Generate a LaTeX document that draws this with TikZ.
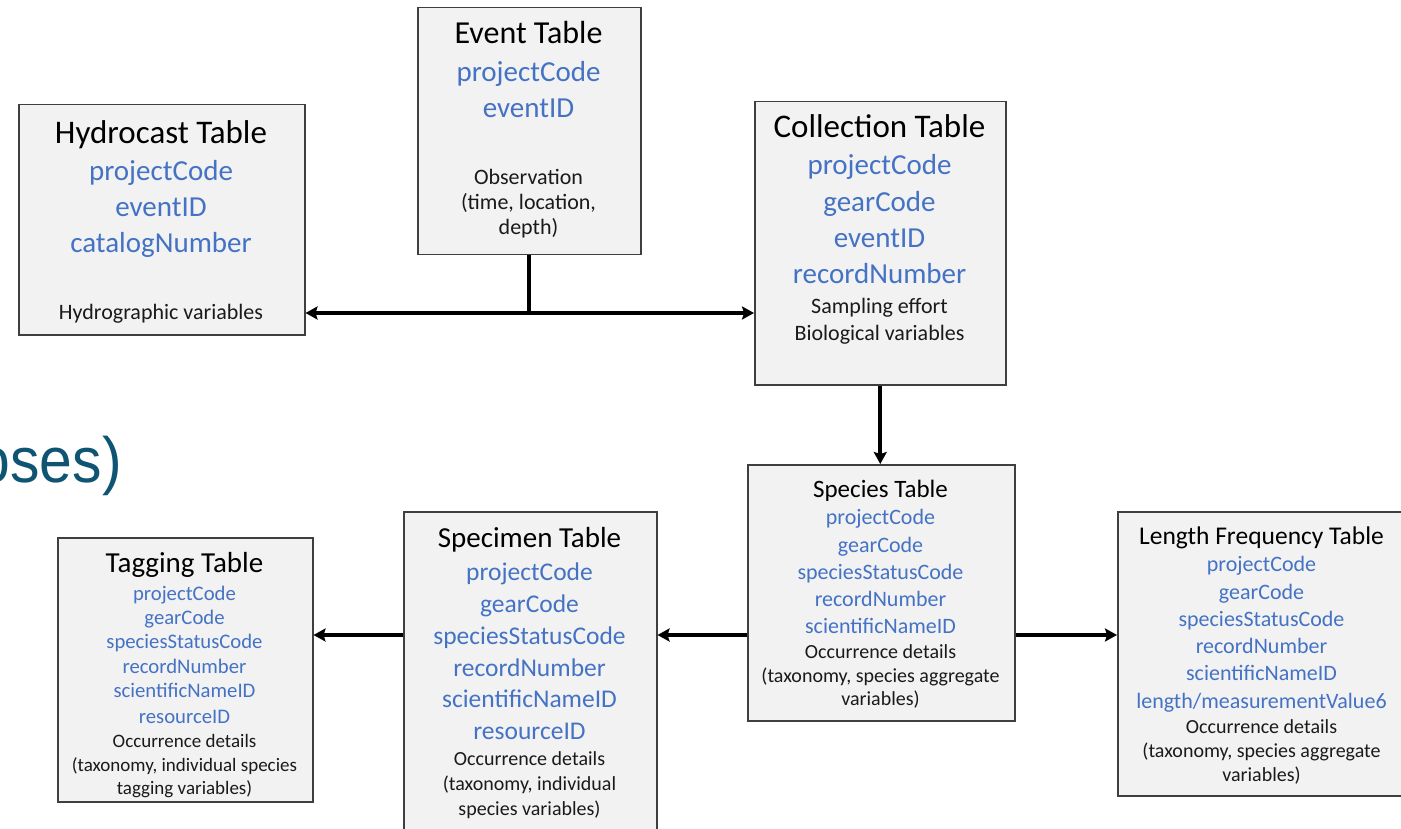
\documentclass[tikz,border=0pt]{standalone}
\usepackage{fontspec}
\setmainfont{Carlito}
\newfontfamily\slidefont{Liberation Sans}
\usetikzlibrary{arrows.meta}
\definecolor{keyblue}{HTML}{4472C4}
\definecolor{boxfill}{HTML}{F2F2F2}
\definecolor{boxline}{HTML}{3F3F3F}
\definecolor{notetext}{HTML}{1A1A1A}
\definecolor{slideteal}{HTML}{0F5573}
\tikzset{
  tbox/.style={draw=boxline, fill=boxfill, line width=1.5pt, inner sep=0pt, anchor=north west},
  ln/.style={anchor=mid, inner sep=0pt},
  ttl/.style={ln, font=\fontsize{#1}{#1}\selectfont, text=black, yshift={-0.235*#1}},
  key/.style={ln, font=\fontsize{#1}{#1}\selectfont, text=keyblue, yshift={-0.22*#1}},
  note/.style={ln, font=\fontsize{#1}{#1}\selectfont, text=notetext, yshift={-0.22*#1}},
  conn/.style={line width=4pt},
  arr/.style={line width=4pt, -{Stealth[length=12pt,width=13pt,inset=2pt]}},
}
\begin{document}
\begin{tikzpicture}[x=1pt,y=-1pt]
\clip (0,0) rectangle (1401,829);
\fill[white] (0,0) rectangle (1401,829);

% slide title fragment
\node[anchor=base east, inner sep=0pt, text=slideteal,
      font=\slidefont\fontsize{64}{64}\selectfont] (frag) at (122,482)
      {\scalebox{0.92}[1]{oses)}};

% Hydrocast table
\node[tbox, minimum width=286pt, minimum height=230pt] (hyd) at (18,104) {};
\node[ttl=33] (hyd-t) at (161,133) {Hydrocast Table};
\foreach \y/\t [count=\i] in {172/projectCode,208/eventID,244/catalogNumber}
  \node[key=29] (hyd-k\i) at (161,\y) {\t};
\node[note=22] (hyd-n1) at (161,312) {Hydrographic variables};

% Event table
\node[tbox, minimum width=223pt, minimum height=247pt] (ev) at (417,7) {};
\node[ttl=32] (ev-t) at (528.5,34) {Event Table};
\foreach \y/\t [count=\i] in {73/projectCode,109/eventID}
  \node[key=29] (ev-k\i) at (528.5,\y) {\t};
\foreach \y/\t [count=\i] in {177/Observation,202/{(time, location,},227/depth)}
  \node[note=22] (ev-n\i) at (528.5,\y) {\t};

% Collection table
\node[tbox, minimum width=251pt, minimum height=283pt] (col) at (754,101) {};
\node[ttl=33] (col-t) at (879.5,127) {Collection Table};
\foreach \y/\t [count=\i] in {166/projectCode,203/gearCode,239/eventID,275/recordNumber}
  \node[key=29] (col-k\i) at (879.5,\y) {\t};
\foreach \y/\t [count=\i] in {306/Sampling effort,333/Biological variables}
  \node[note=22] (col-n\i) at (879.5,\y) {\t};

% Species table
\node[tbox, minimum width=267pt, minimum height=256pt] (sp) at (747,464) {};
\node[ttl=25] (sp-t) at (880.5,489) {Species Table};
\foreach \y/\t [count=\i] in {517/projectCode,545/gearCode,572/speciesStatusCode,599/recordNumber,626/scientificNameID}
  \node[key=22] (sp-k\i) at (880.5,\y) {\t};
\foreach \y/\t [count=\i] in {652/Occurrence details,676/{(taxonomy, species aggregate},699/variables)}
  \node[note=20] (sp-n\i) at (880.5,\y) {\t};

% Length frequency table
\node[tbox, minimum width=289pt, minimum height=284pt] (lf) at (1117,511) {};
\node[ttl=25.5] (lf-t) at (1261.5,536) {Length Frequency Table};
\foreach \y/\t [count=\i] in {564/projectCode,592/gearCode,619/speciesStatusCode,646/recordNumber,673/scientificNameID,701/{length/measurementValue6}}
  \node[key=22] (lf-k\i) at (1261.5,\y) {\t};
\foreach \y/\t [count=\i] in {727/Occurrence details,751/{(taxonomy, species aggregate},775/variables)}
  \node[note=20] (lf-n\i) at (1261.5,\y) {\t};

% Specimen table
\node[tbox, minimum width=253pt, minimum height=330pt] (spc) at (403,511) {};
\node[ttl=29] (spc-t) at (529.5,538) {Specimen Table};
\foreach \y/\t [count=\i] in {572/projectCode,604/gearCode,636/speciesStatusCode,668/recordNumber,699/scientificNameID,731/resourceID}
  \node[key=25.5] (spc-k\i) at (529.5,\y) {\t};
\foreach \y/\t [count=\i] in {759/Occurrence details,784/{(taxonomy, individual},809/species variables)}
  \node[note=20] (spc-n\i) at (529.5,\y) {\t};

% Tagging table
\node[tbox, minimum width=255pt, minimum height=264pt] (tag) at (57,537) {};
\node[ttl=29] (tag-t) at (184.5,563) {Tagging Table};
\foreach \y/\t [count=\i] in {594/projectCode,618/gearCode,642/speciesStatusCode,667/recordNumber,691/scientificNameID,717/resourceID}
  \node[key=20.7] (tag-k\i) at (184.5,\y) {\t};
\foreach \y/\t [count=\i] in {741/Occurrence details,765/{(taxonomy, individual species},788/tagging variables)}
  \node[note=19] (tag-n\i) at (184.5,\y) {\t};

% connectors
\coordinate (jn) at (528.5,313);
\coordinate (row) at (0,635);
\draw[conn] (ev.south) -- (ev.south |- jn);
\draw[arr] (jn) -- (jn -| hyd.east);
\draw[arr] (jn) -- (jn -| col.west);
\draw[arr] (col.south) -- (col.south |- sp.north);
\draw[arr] (row -| sp.east) -- (row -| lf.west);
\draw[arr] (row -| sp.west) -- (row -| spc.east);
\draw[arr] (row -| spc.west) -- (row -| tag.east);
\end{tikzpicture}
\end{document}
